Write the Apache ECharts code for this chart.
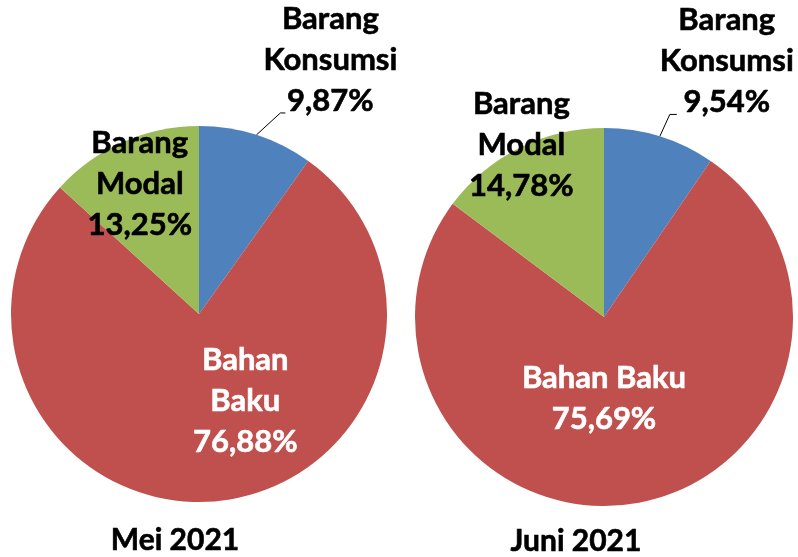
<!DOCTYPE html>
<html>
<head>
<meta charset="utf-8">
<script src="https://cdn.jsdelivr.net/npm/echarts@6/dist/echarts.min.js"></script>
<style>
html, body { margin: 0; padding: 0; background: #fff; }
#chartmain { width: 798px; height: 557px; }
</style>
</head>
<body>
<div id="chartmain"></div>
<script>
// data
var categories = ['Barang Konsumsi', 'Bahan Baku', 'Barang Modal'];
var periods = ['Mei 2021', 'Juni 2021'];
var mei2021 = [9.87, 76.88, 13.25];
var juni2021 = [9.54, 75.69, 14.78];
var labelsMei = ['Barang\nKonsumsi', 'Bahan\nBaku', 'Barang\nModal'];
var labelsJuni = ['Barang\nKonsumsi', 'Bahan Baku', 'Barang\nModal'];

var colors = ['#4F81BD', '#C0504D', '#9BBB59'];
var font = 'Lato';

// layout (pixels)
var pies = [
	{ center: [199, 314], radius: 188, title: [175, 540],
	  inner: { 1: [36, -9], 2: [-20, -41] },
	  outer: { text: [74, -75], line: [[24, -22], [29, -22]] } },
	{ center: [604, 317], radius: 189, title: [576, 541],
	  inner: { 1: [-16, -15], 2: [-39, -85] },
	  outer: { text: [67, -75], line: [[10, -22], [17, -22]] } }
];

function fmt(v) {
	return v.toFixed(2).replace('.', ',') + '%';
}

function buildSeries(idx, values, labels) {
	var p = pies[idx];
	var data = [];
	for (var i = 0; i < values.length; i++) {
		var c = i === 1 ? '#fff' : '#000';
		var item = {
			name: categories[i],
			value: values[i],
			itemStyle: { color: colors[i] },
			label: {
				formatter: labels[i] + '\n' + fmt(values[i]),
				color: c,
				textBorderColor: c,
				textBorderWidth: 0.6
			}
		};
		if (i === 0) {
			item.label.position = 'outside';
		} else {
			item.label.position = 'inside';
			item.label.offset = p.inner[i];
		}
		data.push(item);
	}
	return {
		type: 'pie',
		center: p.center,
		radius: p.radius,
		startAngle: 90,
		clockwise: true,
		animation: false,
		silent: true,
		avoidLabelOverlap: false,
		itemStyle: { borderWidth: 0 },
		label: {
			show: true,
			fontFamily: font,
			fontWeight: 'bold',
			fontSize: 31,
			lineHeight: 41,
			align: 'center'
		},
		labelLine: {
			show: true,
			length: 20,
			length2: 5,
			lineStyle: { color: '#000', width: 1 }
		},
		labelLayout: function (params) {
			if (params.dataIndex !== 0) return {};
			var a = params.labelLinePoints[0];
			var o = p.outer;
			return {
				x: a[0] + o.text[0],
				y: a[1] + o.text[1],
				align: 'center',
				verticalAlign: 'middle',
				labelLinePoints: [
					[a[0], a[1]],
					[a[0] + o.line[0][0], a[1] + o.line[0][1]],
					[a[0] + o.line[1][0], a[1] + o.line[1][1]]
				]
			};
		},
		data: data
	};
}

var option = {
	backgroundColor: '#fff',
	textStyle: { fontFamily: font },
	series: [
		buildSeries(0, mei2021, labelsMei),
		buildSeries(1, juni2021, labelsJuni)
	],
	graphic: periods.map(function (t, i) {
		return {
			type: 'text',
			x: pies[i].title[0],
			y: pies[i].title[1],
			style: {
				text: t,
				fontFamily: font,
				fontWeight: 'bold',
				fontSize: 30,
				fill: '#000',
				stroke: '#000',
				lineWidth: 0.6,
				align: 'center',
				verticalAlign: 'middle'
			}
		};
	})
};

var myChart = echarts.init(document.getElementById('chartmain'));
myChart.setOption(option);
</script>
</body>
</html>
